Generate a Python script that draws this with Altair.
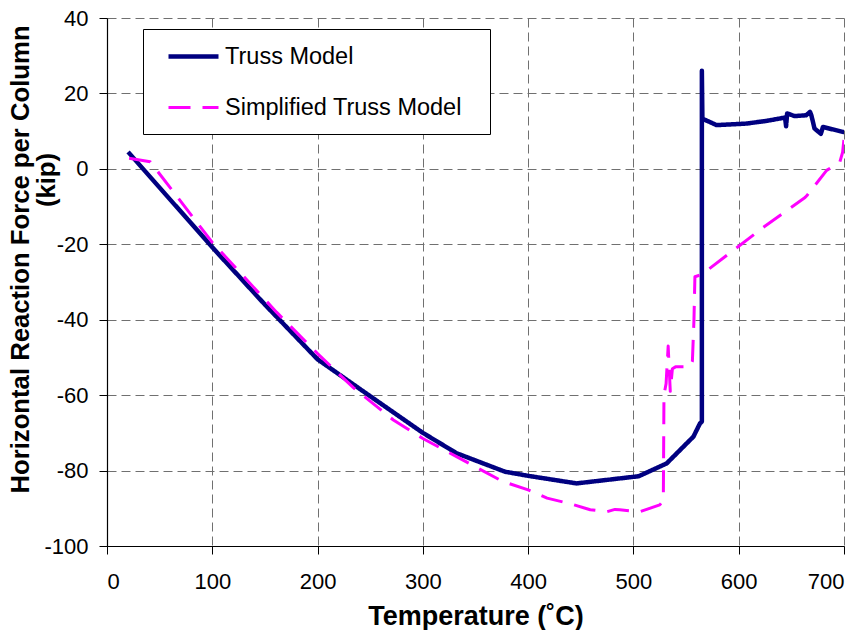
import altair as alt
import pandas as pd

# ---- data ----
truss_T = [20, 100, 150, 200, 246.5, 300, 332, 378, 400, 446, 505, 531.6, 557, 563.2, 565, 565, 565.5,
           579, 607, 626, 644, 645, 646, 653, 664, 667.7, 669, 672, 678, 680, 699, 700]
truss_F = [4.5, -20.8, -36, -50.5, -59.6, -70, -75.4, -80.3, -81.4, -83.4, -81.5, -78.1, -71, -67.5, -67, 26, 13.3,
           11.6, 12, 12.7, 13.6, 11.3, 14.7, 14, 14.2, 15.1, 14.2, 10.7, 9.3, 11.1, 9.8, 9.8]

simp_T = [21, 41, 100, 161, 200, 234, 272, 300, 332, 376, 400, 418, 440, 459, 475, 482.5, 487, 506, 525,
          528.4, 529, 531, 533, 535, 537, 540, 553.7, 556, 557.5, 558.4, 565, 623, 663, 665, 683.5, 696, 698.7, 700]
simp_F = [2.8, 1.9, -19.5, -38, -49, -58, -66.6, -71.5, -76.3, -82.9, -85.1, -87.3, -88.8, -90.4, -90.9, -90.3,
          -90.4, -90.9, -89.1, -88, -60, -57, -47, -59, -53, -52.5, -52.5, -51, -40, -28.6, -28, -15.6, -7.6, -7,
          -0.4, 1.8, 4.4, 8]

series_names = ["Truss Model", "Simplified Truss Model"]
x_ticks = [0, 100, 200, 300, 400, 500, 600, 700]
y_ticks = [-100, -80, -60, -40, -20, 0, 20, 40]

rows = []
for i, (t, f) in enumerate(zip(truss_T, truss_F)):
    rows.append({"T": t, "F": f, "series": series_names[0], "idx": i})
for i, (t, f) in enumerate(zip(simp_T, simp_F)):
    rows.append({"T": t, "F": f, "series": series_names[1], "idx": i})
df = pd.DataFrame(rows)

FONT = "Liberation Sans"

lines = alt.Chart(df).mark_line(strokeJoin="round", clip=True).encode(
    x=alt.X("T:Q", scale=alt.Scale(domain=[0, 700], nice=False),
            axis=alt.Axis(values=x_ticks, title="Temperature (˚C)", titleFontSize=27,
                          titleFontWeight="bold", titlePadding=11, labelFontSize=22,
                          labelPadding=17, tickSize=8)),
    y=alt.Y("F:Q", scale=alt.Scale(domain=[-100, 40], nice=False),
            axis=alt.Axis(values=y_ticks, title="Horizontal Reaction Force per Column",
                          titleFontSize=25.7, titleFontWeight="bold", titleAngle=270,
                          titleAlign="center", titleBaseline="alphabetic",
                          titleX=-79, titleY=241, labelFontSize=22, labelPadding=11, tickSize=8,
                          labelExpr="datum.value < 0 ? '-' + abs(datum.value) : '' + datum.value")),
    color=alt.Color("series:N", scale=alt.Scale(domain=series_names, range=["#000080", "#FF00FF"]),
                    legend=alt.Legend(title="\u00a0", titleOrient="right", titlePadding=28,
                                      titleFontSize=61, titleBaseline="top",
                                      orient="none", legendX=36, legendY=11,
                                      strokeColor="black", fillColor="white", padding=0,
                                      rowPadding=13,
                                      symbolType="stroke", symbolSize=2500, symbolOffset=23,
                                      labelFontSize=23.5, labelOffset=4, labelBaseline="middle",
                                      labelLimit=500)),
    strokeDash=alt.StrokeDash("series:N", scale=alt.Scale(domain=series_names, range=[[1, 0], [22, 12]]),
                              legend=alt.Legend(title="\u00a0")),
    strokeWidth=alt.StrokeWidth("series:N", scale=alt.Scale(domain=series_names, range=[4.5, 3]),
                                legend=alt.Legend(title="\u00a0")),
    order="idx:Q",
)

kip = alt.Chart(pd.DataFrame({"t": ["(kip)"]})).mark_text(
    angle=270, align="center", baseline="alphabetic", fontSize=25.7, fontWeight="bold", font=FONT
).encode(text="t:N", x=alt.value(-52), y=alt.value(162))

chart = alt.layer(lines, kip).properties(
    width=737, height=528,
    autosize=alt.AutoSizeParams(type="none"),
    padding={"left": 99, "top": 10, "right": 15, "bottom": 84},
).configure_axis(
    labelFont=FONT, titleFont=FONT, labelColor="black", titleColor="black",
    domainColor="black", tickColor="black", domainWidth=1.2, tickWidth=1,
    gridColor="#707070", gridDash=[9, 5], gridWidth=1,
).configure_legend(
    labelFont=FONT, labelColor="black", symbolStrokeColor="black"
).configure_view(stroke=None)

chart.save("out.html", embed_options={"renderer": "svg", "actions": False})
